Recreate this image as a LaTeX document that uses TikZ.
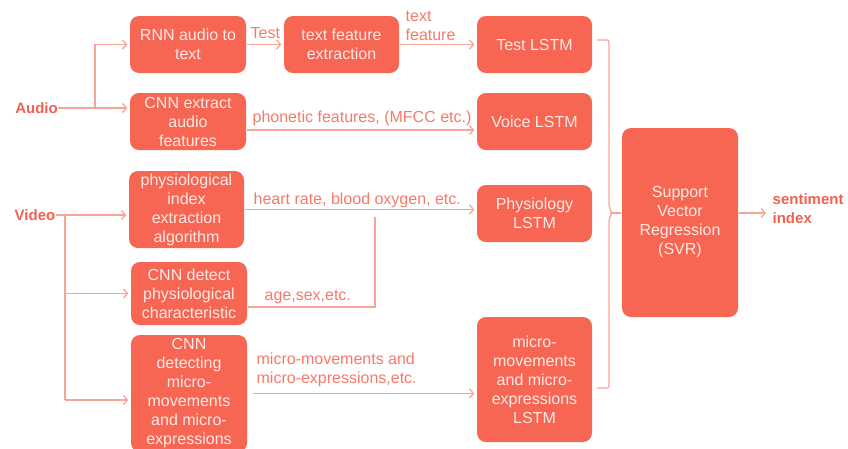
\documentclass[tikz,border=0pt]{standalone}
\usepackage{fontspec}
\setmainfont{Liberation Sans}
\usetikzlibrary{arrows.meta}
\definecolor{boxred}{HTML}{F76553}
\definecolor{linered}{HTML}{F9A596}
\definecolor{labelred}{HTML}{F57A6A}
\definecolor{headred}{HTML}{F2604F}
\definecolor{boxtext}{HTML}{FFEAE6}

\begin{document}
\begin{tikzpicture}[x=1pt, y=-1pt, color=linered, line width=1.3pt,
>={Straight Barb[length=4pt, width=9pt]}, shorten >=2pt,
block/.style={rectangle, rounded corners=9pt, fill=boxred, text=boxtext,
align=center, minimum width=116pt, minimum height=57pt, inner sep=2pt,
font=\fontsize{16}{19}\selectfont},
lbl/.style={text=labelred, align=left, inner sep=0pt, anchor=west,
font=\fontsize{16}{19}\selectfont},
head/.style={text=headred, align=left, inner sep=0pt,
font=\bfseries\fontsize{15}{19}\selectfont}]
  \useasboundingbox (0,0) rectangle (848,448);
  % inputs
  \node[head] (audio) at (36.5,108) {Audio};
  \node[head] (video) at (35,215) {Video};
  % audio branch
  \node[block] (rnn) at (188,44.5) {RNN audio to\\text};
  \node[block, minimum width=115pt] (txtfeat) at (341.5,44.5) {text feature\\extraction};
  \node[block] (cnnaud) at (188,121.5) {CNN extract\\audio\\features};
  % video branch
  \node[block, minimum width=115pt, minimum height=77pt] (phyidx) at (186.5,209.5)
    {physiological\\index\\extraction\\algorithm};
  \node[block, minimum height=63pt] (cnndet) at (189,293.5)
    {CNN detect\\physiological\\characteristic};
  \node[block, minimum height=117pt] (cnnmicro) at (189,393.5)
    {CNN\\detecting\\micro-\\movements\\and micro-\\expressions};
  % LSTM layer
  \node[block, minimum width=115pt] (testlstm) at (534.5,44.5) {Test LSTM};
  \node[block, minimum width=115pt] (voicelstm) at (534.5,121.5) {Voice LSTM};
  \node[block, minimum width=115pt] (physlstm) at (534.5,213.5) {Physiology\\LSTM};
  \node[block, minimum width=115pt, minimum height=125pt] (microlstm) at (534.5,379.5)
    {micro-\\movements\\and micro-\\expressions\\LSTM};
  % regression
  \node[block, minimum height=189pt] (svr) at (680,222.5)
    {Support\\Vector\\Regression\\(SVR)};
  \node[head, anchor=west] (senti) at (772,209) {sentiment\\index};
  % edge labels
  \node[lbl] (testlbl) at (250,33) {Test};
  \node[lbl] (featlbl) at (405,26) {text\\feature};
  \node[lbl] (phonlbl) at (252,118) {phonetic features, (MFCC etc.)};
  \node[lbl] (heartlbl) at (253,200) {heart rate, blood oxygen, etc.};
  \node[lbl] (agelbl) at (264,297) {age,sex,etc.};
  \node[lbl] (microlbl) at (256,370) {micro-movements and\\micro-expressions,etc.};

  % audio split
  \coordinate (asplit) at (95,108);
  \draw[shorten >=0pt] (audio) -- (asplit);
  \draw[->] (asplit) |- (rnn);
  \draw[->] (asplit) -- (asplit -| cnnaud.west);
  \draw[->] (rnn) -- (txtfeat);
  \draw[->] (txtfeat) -- (testlstm);
  \draw[->] ([yshift=-8.5pt]cnnaud.east) -- ([yshift=-8.5pt]voicelstm.west);

  % video split
  \coordinate (vsplit) at (65,215);
  \coordinate (vend) at (65,400);
  \draw[shorten >=0pt] (video) -- (vsplit) -- (vend);
  \draw[->] (vsplit) -- (vsplit -| phyidx.west);
  \draw[->] (vsplit |- cnndet) -- (cnndet.west);
  \draw[->] (vend) -- (vend -| cnnmicro.west);
  \draw[->] (phyidx) -- (phyidx -| physlstm.west);
  \coordinate (agebend) at (375,307);
  \coordinate (agetop) at (375,217);
  \draw[shorten >=0pt] (cnndet.east |- agebend) -- (agebend) -- (agetop);
  \draw[->] ([xshift=5pt]cnnmicro.east) -- (cnnmicro.east -| microlstm.west);

  % bracket into SVR
  \coordinate (bstart) at (597,40);
  \coordinate (btop) at (609,40);
  \coordinate (bmid) at (612,213);
  \coordinate (bbot) at (609,388);
  \coordinate (bend) at (597,388);
  \draw[rounded corners=2pt, shorten >=0pt] (bstart) -- (btop) -- (609,207) -- (bmid)
    -- (609,219) -- (bbot) -- (bend);
  \draw[shorten >=0pt] (bmid) -- (svr.west |- bmid);
  \draw[->, shorten >=6pt] (svr.east |- bmid) -- (bmid -| senti.west);
\end{tikzpicture}
\end{document}
